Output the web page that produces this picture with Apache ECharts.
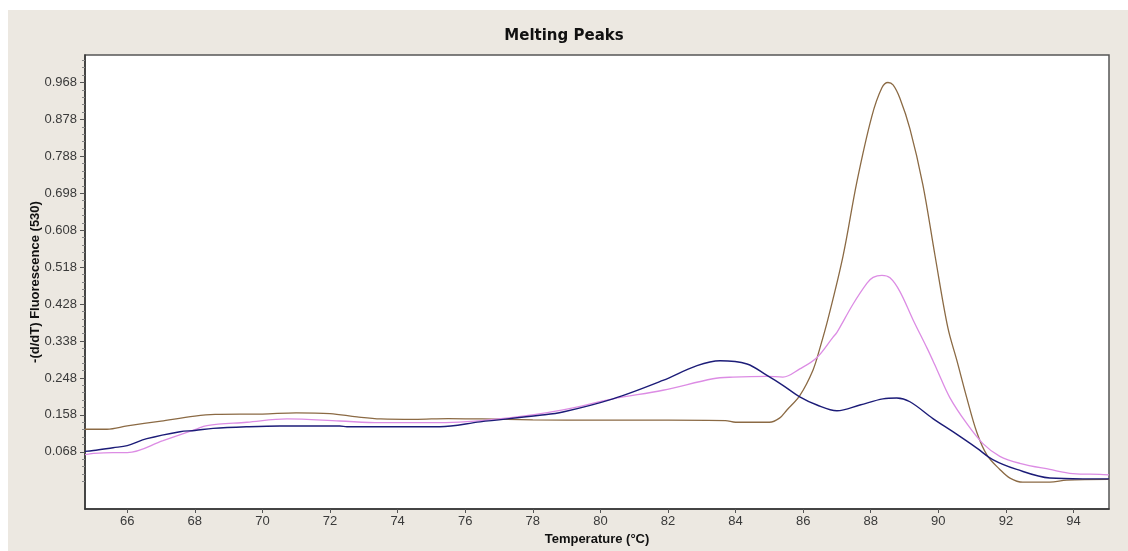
<!DOCTYPE html>
<html><head><meta charset="utf-8">
<script src="https://cdn.jsdelivr.net/npm/echarts@6/dist/echarts.min.js"></script>
<style>
html,body{margin:0;padding:0;background:#fff;}
#bg{position:absolute;left:8px;top:10px;width:1120px;height:541px;background:#ece8e1;}
#chart{position:absolute;left:0;top:0;width:1128px;height:551px;}
</style></head>
<body>
<div id="bg"></div>
<div id="chart"></div>
<script>
// ---- data ----
var xTicks = [66,68,70,72,74,76,78,80,82,84,86,88,90,92,94];
var yTicks = [0.068,0.158,0.248,0.338,0.428,0.518,0.608,0.698,0.788,0.878,0.968];

var brownT = [64.75,65.4,66.0,67.0,68.0,68.6,70.0,71.0,72.0,72.8,73.5,74.5,75.5,76.5,78.0,80.0,82.0,83.7,84.0,85.0,85.3,85.52,85.9,86.29,86.5,86.73,87.18,87.59,88.03,88.33,88.51,88.66,88.86,89.16,89.54,89.9,90.28,90.55,90.84,91.14,91.44,91.82,92.12,92.5,93.3,93.8,95.05];
var brownV = [0.123,0.123,0.131,0.143,0.155,0.159,0.160,0.163,0.161,0.153,0.148,0.147,0.149,0.148,0.146,0.145,0.145,0.144,0.140,0.140,0.150,0.170,0.205,0.267,0.322,0.39,0.545,0.726,0.885,0.955,0.968,0.962,0.930,0.855,0.720,0.547,0.371,0.290,0.200,0.115,0.060,0.025,0.004,-0.006,-0.006,-0.001,0.001];

var pinkT = [64.75,65.0,65.58,66.0,67.06,68.0,68.36,69.54,70.73,72.29,73.48,75.25,77.41,78.89,80.37,81.85,83.33,83.92,84.93,85.4,85.9,86.41,86.88,87.0,87.47,87.89,88.07,88.33,88.57,88.86,89.25,89.67,89.84,89.96,90.34,90.84,91.32,91.82,92.41,93.3,93.98,94.78,95.05];
var pinkV = [0.061,0.064,0.066,0.066,0.095,0.122,0.132,0.140,0.148,0.143,0.139,0.139,0.152,0.170,0.197,0.218,0.246,0.250,0.252,0.250,0.270,0.298,0.347,0.359,0.427,0.479,0.493,0.498,0.492,0.459,0.390,0.320,0.290,0.268,0.200,0.137,0.088,0.057,0.040,0.025,0.015,0.013,0.012];

var blueT = [64.75,65.0,65.58,66.0,66.58,67.56,68.0,68.54,69.54,70.52,72.29,72.5,75.25,76.44,78.21,78.89,80.37,81.85,82.86,83.54,84.34,84.93,85.4,85.9,86.41,87.0,87.68,88.36,88.77,89.16,89.84,90.43,91.14,91.61,92.32,93.3,94.28,95.05];
var blueV = [0.069,0.071,0.078,0.083,0.100,0.117,0.120,0.125,0.129,0.131,0.131,0.129,0.129,0.141,0.157,0.165,0.197,0.242,0.278,0.290,0.282,0.254,0.230,0.202,0.182,0.168,0.182,0.197,0.199,0.190,0.149,0.117,0.077,0.049,0.025,0.004,0.002,0.002];

function zip(a,b){var r=[];for(var i=0;i<a.length;i++)r.push([a[i],b[i]]);return r;}
var minorY=[];
for (var i=0;i<yTicks.length;i++){
  for (var k=1;k<5;k++){ var v=yTicks[i]+k*0.018; if(v<1.035) minorY.push(+v.toFixed(4)); var w=yTicks[i]-k*0.018; if(i===0 && w>-0.071) minorY.push(+w.toFixed(4)); }
}

var chart = echarts.init(document.getElementById('chart'), null, {renderer:'canvas'});
var labelFont = {fontFamily:'Liberation Sans, Arial, sans-serif', fontSize:13, color:'#3a3a3a'};
chart.setOption({
  backgroundColor:'transparent',
  animation:false,
  title:{text:'Melting Peaks', left:'center', top:24,
    textStyle:{fontFamily:'DejaVu Sans', fontWeight:'bold', fontSize:15, color:'#111'}},
  grid:{left:85, top:55, right:19, bottom:38, show:true, backgroundColor:'#ffffff', borderColor:'#555', borderWidth:1.5},
  xAxis:{type:'value', min:64.75, max:95.05,
    name:'Temperature (°C)', nameLocation:'middle', nameGap:24, nameMoveOverlap:false,
    nameTextStyle:{fontFamily:'Liberation Sans, Arial, sans-serif', fontWeight:'bold', fontSize:13, color:'#111'},
    axisLine:{show:true, onZero:false, lineStyle:{color:'#333', width:1.5}},
    axisTick:{show:true, length:4, customValues:xTicks, lineStyle:{color:'#555'}},
    axisLabel:Object.assign({customValues:xTicks, margin:6}, labelFont),
    splitLine:{show:false}},
  yAxis:[{type:'value', min:-0.0714, max:1.035,
    name:'-(d/dT) Fluorescence (530)', nameLocation:'middle', nameGap:43, nameMoveOverlap:false,
    nameTextStyle:{fontFamily:'Liberation Sans, Arial, sans-serif', fontWeight:'bold', fontSize:13, color:'#111'},
    axisLine:{show:true, onZero:false, lineStyle:{color:'#333', width:1.5}},
    axisTick:{show:true, length:5, customValues:yTicks, lineStyle:{color:'#555'}},
    axisLabel:Object.assign({customValues:yTicks, margin:8, formatter:function(v){return v.toFixed(3);}}, labelFont),
    splitLine:{show:false}},
   {type:'value', min:-0.0714, max:1.035, position:'left',
    axisLine:{show:false, onZero:false},
    axisTick:{show:true, length:3, customValues:minorY, lineStyle:{color:'#888'}},
    axisLabel:{show:false}, splitLine:{show:false}}],
  series:[
    {type:'line', name:'brown', data:zip(brownT,brownV), showSymbol:false, smooth:0.35,
      lineStyle:{color:'#8b6a44', width:1.3}},
    {type:'line', name:'pink', data:zip(pinkT,pinkV), showSymbol:false, smooth:0.35,
      lineStyle:{color:'#dc8ce4', width:1.3}},
    {type:'line', name:'blue', data:zip(blueT,blueV), showSymbol:false, smooth:0.35,
      lineStyle:{color:'#1c1c78', width:1.4}}
  ]
});
</script>
</body></html>
